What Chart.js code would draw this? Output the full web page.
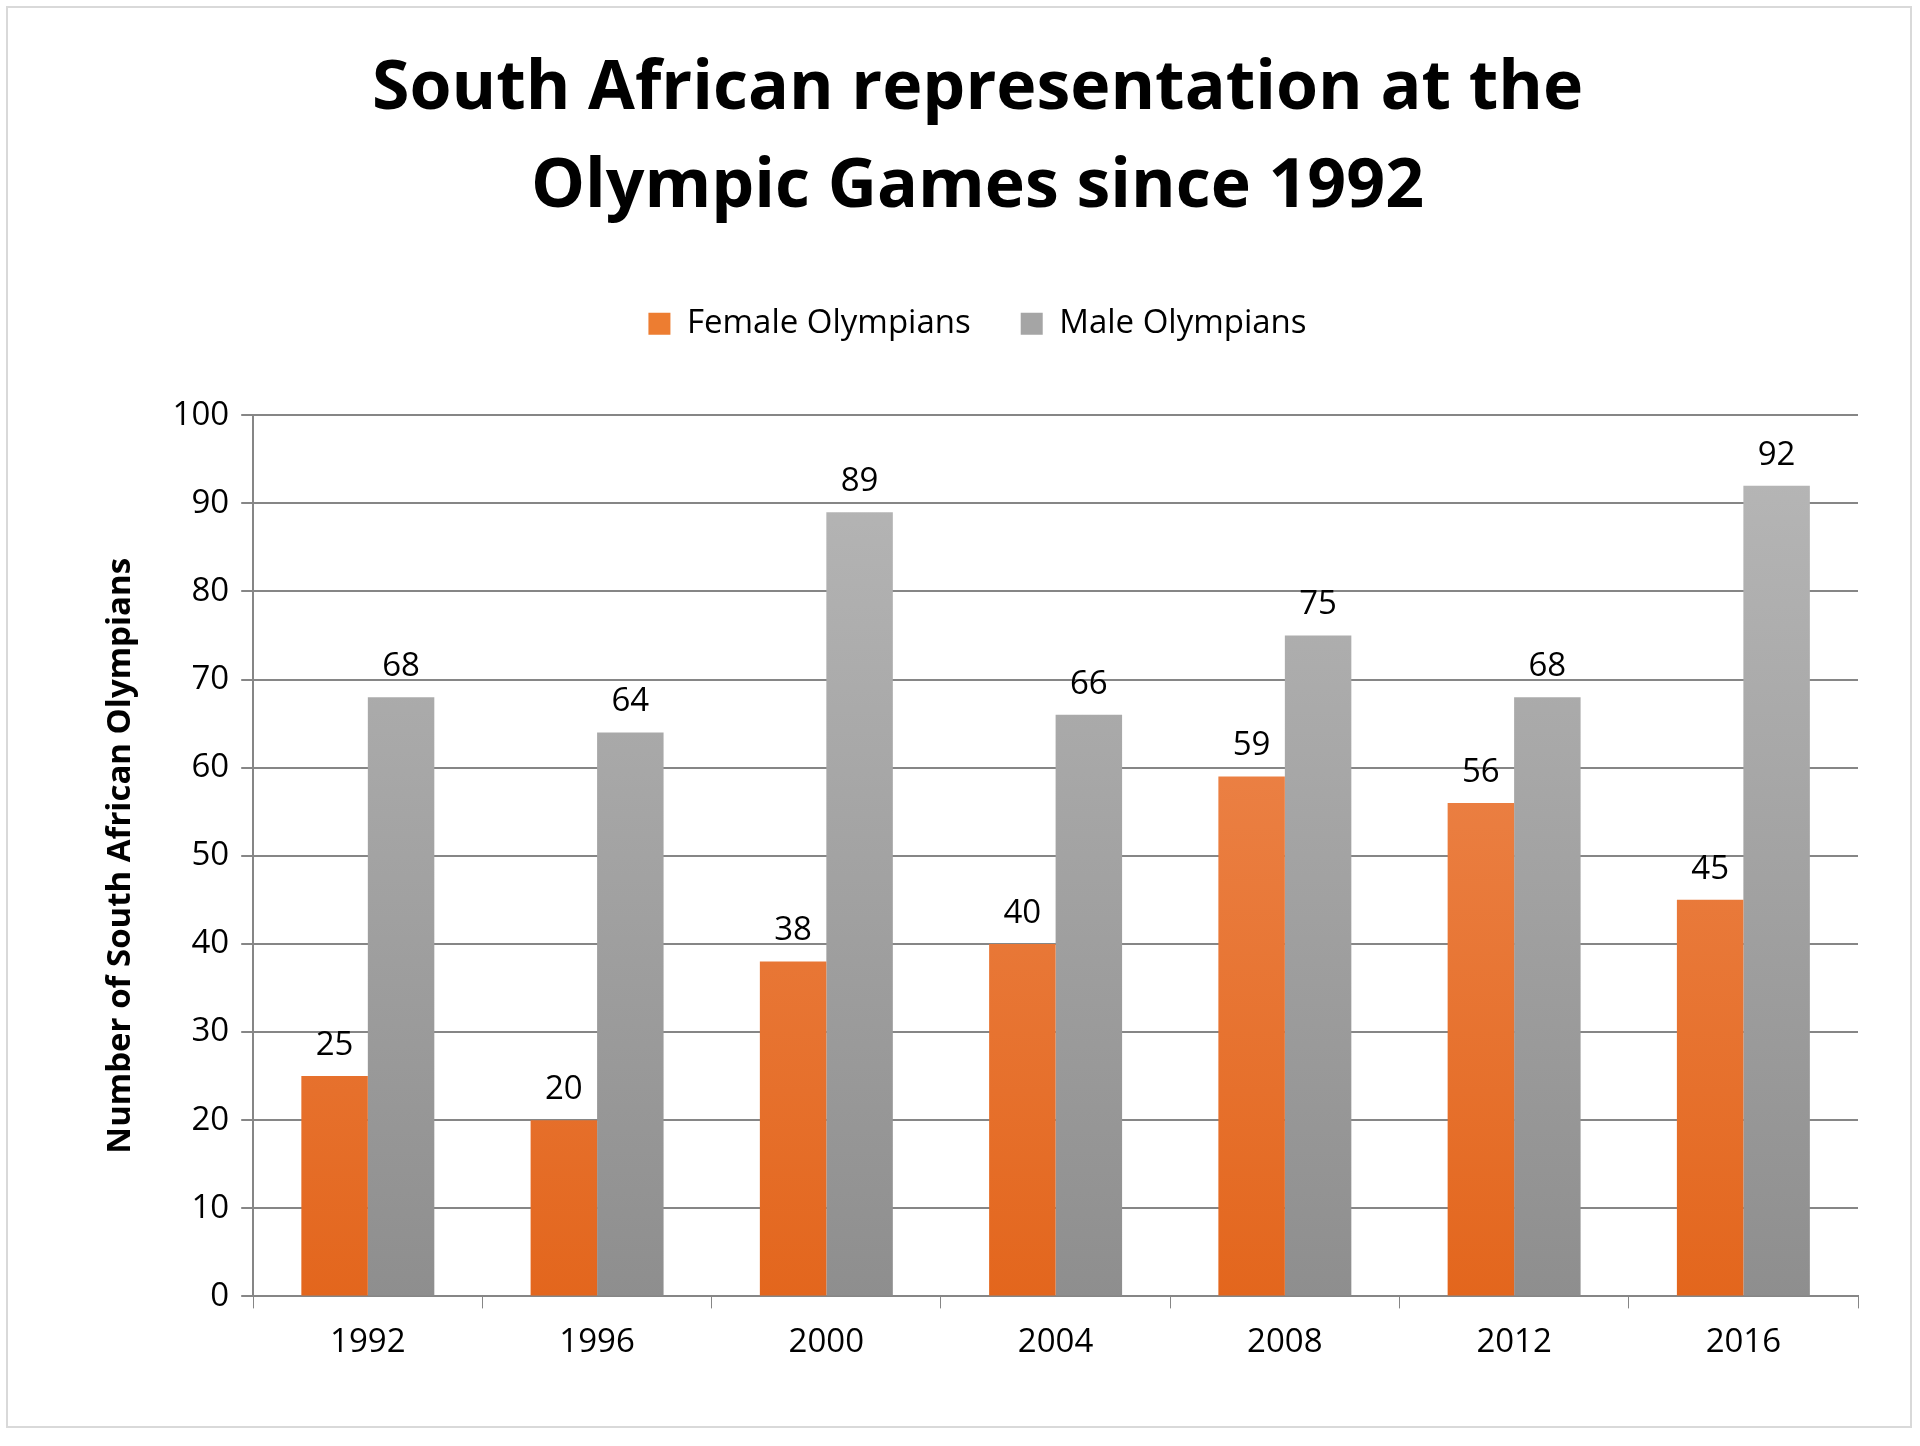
<!DOCTYPE html>
<html>
<head>
<meta charset="utf-8">
<script src="https://cdn.jsdelivr.net/npm/chart.js@4"></script>
<style>
  html, body { margin: 0; background: #fff; }
  #wrap { position: relative; width: 1920px; height: 1446px; }
  #frame { position: absolute; left: 6px; top: 6px; width: 1902px; height: 1418px; border: 2px solid #d9d9d9; }
</style>
</head>
<body>
<div id="wrap">
  <div id="frame"></div>
  <canvas id="grafico" width="1920" height="1446"></canvas>
</div>
<script>
const years = ["1992", "1996", "2000", "2004", "2008", "2012", "2016"];
const female = [25, 20, 38, 40, 59, 56, 45];
const male = [68, 64, 89, 66, 75, 68, 92];
const yTicks = [0, 10, 20, 30, 40, 50, 60, 70, 80, 90, 100];

function gradient(ctx, top, bottom) {
  const area = ctx.chart.chartArea;
  if (!area) return bottom;
  const g = ctx.chart.ctx.createLinearGradient(0, area.top, 0, area.bottom);
  g.addColorStop(0, top);
  g.addColorStop(1, bottom);
  return g;
}

// draw value labels above bars
const labelsPlugin = {
  id: "barLabels",
  afterDatasetsDraw(chart) {
    const c = chart.ctx;
    c.save();
    c.font = "33px 'Open Sans'";
    c.fillStyle = "#000";
    c.textAlign = "center";
    c.textBaseline = "bottom";
    chart.data.datasets.forEach((ds, i) => {
      chart.getDatasetMeta(i).data.forEach((bar, j) => {
        c.fillText(ds.data[j], bar.x, bar.y - 14);
      });
    });
    c.restore();
  }
};

// extra room under the legend
const legendGap = {
  id: "legendGap",
  beforeInit(chart) {
    const fit = chart.legend.fit;
    chart.legend.fit = function () {
      fit.bind(chart.legend)();
      this.height += 65;
    };
  }
};

const ctx = document.getElementById("grafico").getContext("2d");
new Chart(ctx, {
  type: "bar",
  data: {
    labels: years,
    datasets: [{
      label: "Female Olympians",
      data: female,
      backgroundColor: c => gradient(c, "#f0915d", "#e3661d"),
      borderWidth: 0
    }, {
      label: "Male Olympians",
      data: male,
      backgroundColor: c => gradient(c, "#b8b8b8", "#8e8e8e"),
      borderWidth: 0
    }]
  },
  options: {
    responsive: false,
    animation: false,
    layout: { padding: { left: 97, right: 62, top: 40, bottom: 70 } },
    plugins: {
      title: {
        display: true,
        text: ["South African representation at the", "Olympic Games since 1992"],
        color: "#000",
        font: { family: "'Open Sans'", size: 68, weight: "bold", lineHeight: 1.45 },
        padding: { bottom: 20 }
      },
      legend: {
        labels: {
          color: "#222",
          font: { family: "'Open Sans'", size: 33 },
          boxWidth: 22, boxHeight: 22, padding: 50,
          generateLabels: chart => chart.data.datasets.map((ds, i) => ({
            text: ds.label,
            fillStyle: i === 0 ? "#ed7d31" : "#a5a5a5",
            strokeStyle: "transparent",
            lineWidth: 0,
            datasetIndex: i
          }))
        }
      },
      tooltip: { enabled: false }
    },
    datasets: { bar: { categoryPercentage: 0.58, barPercentage: 1.0 } },
    scales: {
      x: {
        grid: { display: true, drawOnChartArea: false, offset: true, color: "#868686", tickLength: 12 },
        border: { color: "#868686", width: 2 },
        ticks: { color: "#000", font: { family: "'Open Sans'", size: 33 }, padding: 14 }
      },
      y: {
        min: 0, max: 100,
        afterBuildTicks: axis => { axis.ticks = yTicks.map(v => ({ value: v })); },
        grid: { color: "#868686", lineWidth: 2, tickLength: 12 },
        border: { color: "#868686", width: 2 },
        ticks: { color: "#000", font: { family: "'Open Sans'", size: 33 }, padding: 12 },
        title: {
          display: true,
          text: "Number of South African Olympians",
          color: "#000",
          font: { family: "'Open Sans'", size: 33, weight: "bold" },
          padding: { bottom: 20 }
        }
      }
    }
  },
  plugins: [labelsPlugin, legendGap]
});
</script>
</body>
</html>
